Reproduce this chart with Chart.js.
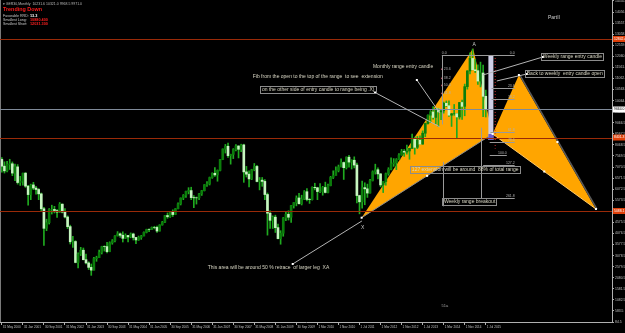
<!DOCTYPE html>
<html>
<head>
<meta charset="utf-8">
<script src="https://cdn.jsdelivr.net/npm/chart.js@4.4.0/dist/chart.umd.min.js"></script>
<style>
html, body { margin: 0; padding: 0; background: #000; overflow: hidden; }
</style>
</head>
<body>
<canvas id="daxChart" width="625" height="333"></canvas>
<script>
// GER30 monthly candles, May 2000 .. Sep 2015 (one entry per month)
const opens = [
    7414,7109,6898,7190,7216,6798,7077,6372,
    6433,6795,6208,5829,6264,6123,6058,5861,5188,4308,4560,5160,
    5160,5108,5039,5397,5041,4818,4383,3700,3712,2769,3153,3320,
    2893,2748,2547,2424,2942,2983,3221,3487,3484,3257,3655,3746,
    3965,4058,3995,3856,3985,3921,4052,3895,3785,3893,3960,4126,
    4256,4254,4350,4349,4185,4460,4586,4886,4829,5044,4929,5193,
    5408,5674,5796,5970,6009,5692,5683,5682,5859,6004,6268,6309,
    6597,6789,6716,6917,7409,7883,8007,7584,7638,7862,8019,7871,
    8067,6851,6748,6535,6949,7097,6418,6479,6422,5831,4988,4669,
    4810,4338,3843,4085,4770,4941,4809,5332,5465,5675,5414,5625,
    5957,5608,5598,6154,6136,5965,5966,6148,5925,6229,6601,6688,
    6914,7077,7273,7041,7514,7294,7376,7159,5785,5502,6141,6088,
    5898,6458,6856,6947,6761,6264,6416,6772,6971,7216,7260,7405,
    7612,7776,7741,7795,7914,8349,7959,8276,8103,8594,9033,9406,
    9552,9306,9692,9556,9603,9943,9833,9407,9470,9474,9327,9980,
    9806,10694,11402,11966,11454,11413,10945,11309,10259
];
const highs = [
    7500,7305,7330,7420,7300,7200,7180,6650,
    6800,6820,6250,6300,6380,6200,6100,5900,5250,4720,5200,5350,
    5300,5150,5470,5410,5200,4870,4450,3950,3750,3200,3450,3420,
    3150,2800,2700,3000,3050,3330,3500,3520,3680,3700,3800,3980,
    4160,4100,4150,4060,3990,4100,4090,3900,3960,3990,4150,4270,
    4290,4370,4400,4410,4470,4620,4890,5000,5060,5140,5200,5460,
    5680,5830,5990,6140,6160,5780,5720,5890,6020,6280,6410,6620,
    6810,7040,6940,7420,7890,8090,8150,7650,7900,8080,8030,8100,
    8100,7100,6900,6970,7230,7150,6600,6600,6500,5900,5100,4870,
    4900,4500,4200,4800,5060,5100,5340,5470,5770,5890,5800,6010,
    6100,5650,6180,6340,6160,6320,6200,6390,6300,6650,6900,7080,
    7160,7440,7300,7530,7600,7400,7530,7250,5800,6440,6360,6300,
    6520,6900,7200,7030,6780,6420,6800,7040,7480,7450,7450,7680,
    7870,7860,8060,7920,8560,8420,8450,8480,8700,9050,9420,9620,
    9800,9720,9720,9650,10000,10050,10050,9490,9890,9480,9980,10090,
    10810,11420,12220,12390,11920,11680,11800,11670,10540
];
const lows = [
    6834,6800,6850,6960,6680,6450,6300,6240,
    6250,6150,5350,5600,6050,5850,5600,5100,3540,4200,4500,4950,
    5000,4800,5020,5000,4780,4300,3600,3450,2750,2520,3080,2880,
    2700,2450,2188,2420,2820,2980,3150,3280,3200,3250,3590,3700,
    3960,3900,3690,3840,3690,3880,3780,3620,3760,3810,3960,4100,
    4160,4250,4280,4120,4180,4450,4560,4760,4800,4840,4920,5180,
    5360,5600,5700,5860,5600,5240,5400,5600,5790,5990,6200,6260,
    6560,6650,6430,6900,7400,7700,7500,7200,7450,7800,7480,7760,
    6380,6620,6170,6500,6900,6400,6040,6200,5600,4000,4300,4300,
    4120,3830,3590,3950,4650,4680,4570,5220,5320,5410,5360,5600,
    5540,5430,5580,6040,5600,5910,5800,5900,5900,6220,6550,6700,
    6850,7070,6510,6980,7060,6980,7030,5450,4960,5220,5370,5700,
    5890,6440,6750,6540,6180,5920,6250,6700,6940,7100,6950,7400,
    7600,7550,7650,7420,7900,7650,7900,8100,8100,8440,9000,9070,
    9230,9020,8900,9200,9500,9790,9350,8900,9400,8350,9230,9220,
    9380,10580,11270,11450,11330,10800,10680,9338,9325
];
const closes = [
    7109,6898,7190,7216,6798,7077,6372,6433,
    6795,6208,5829,6264,6123,6058,5861,5188,4308,4560,5160,5160,
    5108,5039,5397,5041,4818,4383,3700,3712,2769,3153,3320,2893,
    2748,2547,2424,2942,2983,3221,3487,3484,3257,3655,3746,3965,
    4058,3995,3856,3985,3921,4052,3895,3785,3893,3960,4126,4256,
    4254,4350,4349,4185,4460,4586,4886,4829,5044,4929,5193,5408,
    5674,5796,5970,6009,5692,5683,5682,5859,6004,6268,6309,6597,
    6789,6716,6917,7409,7883,8007,7584,7638,7862,8019,7871,8067,
    6851,6748,6535,6949,7097,6418,6479,6422,5831,4988,4669,4810,
    4338,3843,4085,4770,4941,4809,5332,5465,5675,5414,5625,5957,
    5608,5598,6154,6136,5965,5966,6148,5925,6229,6601,6688,6914,
    7077,7273,7041,7514,7294,7376,7159,5785,5502,6141,6088,5898,
    6458,6856,6947,6761,6264,6416,6772,6971,7216,7260,7405,7612,
    7776,7741,7795,7914,8349,7959,8276,8103,8594,9033,9406,9552,
    9306,9692,9556,9603,9943,9833,9407,9470,9474,9327,9980,9806,
    10694,11402,11966,11454,11413,10945,11309,10259,9660
];

// bottom date labels (bar index -> text)
const dateTickIdx = [0,8,16,24,32,40,48,56,64,72,80,88,96,104,112,120,128,136,144,152,160,168,176,184];
const dateTickLabels = [
    "31 May 2000","31 Jan 2001","30 Sep 2001","31 May 2002","31 Jan 2003","30 Sep 2003",
    "31 May 2004","31 Jan 2005","30 Sep 2005","31 May 2006","31 Jan 2007","30 Sep 2007",
    "31 May 2008","31 Jan 2009","30 Sep 2009","1 Mar 2010","1 Nov 2010","1 Jul 2011",
    "1 Mar 2012","1 Nov 2012","1 Jul 2013","1 Mar 2014","1 Nov 2014","1 Jul 2015"
];

// right side price labels
const priceTicks = [
    84.5,583.5,1082.5,1581.5,2080.5,2579.5,3078.5,3577.5,4076.5,4575.5,
    5074.5,5573.5,6072.5,6571.5,7070.5,7569.5,8068.5,8567.5,9066.5,9565.5,
    10064.5,10563.5,11062.5,11561.5,12060.5,12559.5,13058.5,13557.5,14056.5,14555.5
];

// horizontal levels
const levelPrices = [12842.4, 9664.0, 8401.3, 5088.1];
const levelIsWhite = [false, true, false, false];

// harmonic pattern X A B C D
const patternNames = ["X", "A", "B", "C", "D"];
const patternIdx = [136.8, 179.2, 186.6, 196.6, 225.9];
const patternPrice = [4786, 12420, 8560, 11219, 5178];

// text notes
const noteTexts = [
    "Monthly range entry candle",
    "Fib from the open to the top of the range  to see  extension",
    "on the other side of entry candle to range being .X)",
    "Weekly range entry candle",
    "Back to weekly  entry candle open",
    "127 extension will be around  88% of total range",
    "Weekly range breakout",
    "This area will be around 50 % retrace  of larger leg  XA"
];
const noteIdx = [141.1, 95.4, 98.9, 205.7, 199.6, 155.9, 168.1, 78.3];
const notePrice = [11580, 11129, 10543, 12031, 11264, 6937, 5494, 2519];
const noteBoxed = [false, false, true, true, true, true, true, false];

// pointer lines [idx, price] -> [idx, price]
const pointerFrom = [[110.6, 2699], [157.8, 10994], [141.9, 10430], [205.7, 12031], [199.6, 11264]];
const pointerTo = [[136.9, 4638], [166.5, 9506], [166.5, 8880], [182.9, 11219], [188.2, 10950]];

// fib level marks
const fibIdxFrom = [167.3, 186.2, 186.2, 185.8, 185.5, 185.5, 183.0, 182.3];
const fibIdxTo = [195.0, 195.0, 195.0, 195.0, 195.0, 192.0, 195.0, 195.0];
const fibPrice = [12121, 10633, 10137, 8650, 8199, 7612, 7162, 5674];
const fibText = ["0.0", "23.6", "38.2", "61.8", "78.6", "100.0", "127.2", "261.8"];

// labels along the monthly fib vertical
const monthlyFibPrice = [11490, 11080, 10760, 10400];
const monthlyFibText = ["23.6", "38.2", "50.0", "61.8"];

const ctxChart = document.getElementById("daxChart").getContext("2d");

const FONT = '"Liberation Sans", "DejaVu Sans", sans-serif';

const bullBody = "#0b7d0b";
const bearBody = "#c6f5c0";
const wickColor = "#1faa1f";
const orange = "#ffa500";

const bodyColors = closes.map((c, i) => c >= opens[i] ? bullBody : bearBody);

const px = (chart, v) => chart.scales.x.getPixelForValue(v);
const py = (chart, v) => chart.scales.y.getPixelForValue(v);

const backgroundPlugin = {
    id: "blackBackground",
    beforeDraw(chart) {
        const c = chart.ctx;
        c.save();
        c.fillStyle = "#000";
        c.fillRect(0, 0, chart.width, chart.height);
        c.restore();
    }
};

// orange pattern triangles go under the candles
const patternPlugin = {
    id: "harmonicPattern",
    beforeDatasetsDraw(chart) {
        const c = chart.ctx;
        const pts = patternIdx.map((i, k) => [px(chart, i), py(chart, patternPrice[k])]);
        c.save();
        c.fillStyle = orange;
        [[0, 1, 2], [2, 3, 4]].forEach(tri => {
            c.beginPath();
            c.moveTo(pts[tri[0]][0], pts[tri[0]][1]);
            c.lineTo(pts[tri[1]][0], pts[tri[1]][1]);
            c.lineTo(pts[tri[2]][0], pts[tri[2]][1]);
            c.closePath();
            c.fill();
        });
        // edges
        c.lineWidth = 1;
        c.strokeStyle = "#ffc966";
        c.beginPath();
        c.moveTo(pts[2][0], pts[2][1]);
        c.lineTo(pts[4][0], pts[4][1]);
        c.stroke();
        c.strokeStyle = "#8c8c8c";
        c.beginPath();
        c.moveTo(pts[0][0], pts[0][1]);
        c.lineTo(pts[2][0], pts[2][1]);
        c.stroke();
        c.strokeStyle = "#5a5a5a";
        c.lineWidth = 1.5;
        c.beginPath();
        c.moveTo(pts[3][0] + 1, pts[3][1]);
        c.lineTo(pts[4][0] + 1, pts[4][1]);
        c.stroke();
        c.restore();
    }
};

const overlayPlugin = {
    id: "overlay",
    afterDatasetsDraw(chart) {
        const c = chart.ctx;
        const area = chart.chartArea;
        c.save();

        // window border on the left
        c.strokeStyle = "#7a7a7a";
        c.beginPath();
        c.moveTo(0.5, area.top);
        c.lineTo(0.5, area.bottom);
        c.stroke();

        // weekly range candle (tall rectangle) and dotted marker
        const rx0 = px(chart, 185.0), rx1 = px(chart, 186.9);
        const ry0 = py(chart, 12121), ry1 = py(chart, 8289);
        c.fillStyle = "#cfcfe6";
        c.fillRect(rx0, ry0, rx1 - rx0, ry1 - ry0);
        c.fillStyle = "#6a5acd";
        c.fillRect(rx0, ry1 - 6, rx1 - rx0, 6);
        c.strokeStyle = "#d03030";
        c.setLineDash([1, 2]);
        c.beginPath();
        c.moveTo(px(chart, 187.4) + 0.5, ry0);
        c.lineTo(px(chart, 187.4) + 0.5, py(chart, 7900));
        c.stroke();
        c.setLineDash([]);

        // horizontal price levels
        levelPrices.forEach((p, k) => {
            const y = Math.round(py(chart, p)) + 0.5;
            c.strokeStyle = levelIsWhite[k] ? "#7f8a99" : "#9a2a08";
            c.lineWidth = 1;
            c.beginPath();
            c.moveTo(area.left, y);
            c.lineTo(area.right, y);
            c.stroke();
        });

        // fib marks
        c.strokeStyle = "#9a9a9a";
        c.fillStyle = "#b0b0b0";
        c.font = "3.5px " + FONT;
        c.textBaseline = "bottom";
        fibPrice.forEach((p, k) => {
            const y = Math.round(py(chart, p)) + 0.5;
            const x0 = px(chart, fibIdxFrom[k]), x1 = px(chart, fibIdxTo[k]);
            c.beginPath();
            c.moveTo(x0, y);
            c.lineTo(x1, y);
            c.stroke();
            c.textAlign = "right";
            c.fillText(fibText[k], x1, y - 0.5);
        });
        c.textAlign = "left";
        c.fillText("0.0", px(chart, 167.3), py(chart, 12121) - 0.5);
        monthlyFibPrice.forEach((p, k) => {
            const y = py(chart, p);
            c.fillStyle = "#ff6a8a";
            c.fillRect(px(chart, 167.3) - 0.5, y - 0.5, 1.5, 1.5);
            c.fillStyle = "#b0b0b0";
            c.fillText(monthlyFibText[k], px(chart, 167.3) + 2, y + 1.5);
        });
        // fib vertical guides
        [[167.3, 12121, 8990], [182.3, 8840, 5674], [167.9, 7300, 5300]].forEach(v => {
            const x = Math.round(px(chart, v[0])) + 0.5;
            c.beginPath();
            c.moveTo(x, py(chart, v[1]));
            c.lineTo(x, py(chart, v[2]));
            c.stroke();
        });

        // pointer lines
        c.strokeStyle = "#b4b4b4";
        c.lineWidth = 1;
        pointerFrom.forEach((f, k) => {
            const t = pointerTo[k];
            c.beginPath();
            c.moveTo(px(chart, f[0]), py(chart, f[1]));
            c.lineTo(px(chart, t[0]), py(chart, t[1]));
            c.stroke();
            c.fillStyle = "#ffffff";
            c.fillRect(px(chart, f[0]) - 1, py(chart, f[1]) - 1, 2, 2);
        });

        // pattern point markers
        c.fillStyle = "#ffffff";
        patternIdx.forEach((i, k) => {
            if (k === 1) return;
            c.fillRect(px(chart, i) - 1, py(chart, patternPrice[k]) - 1, 2, 2);
        });
        // mid-edge markers
        [[0, 2], [3, 4], [2, 4]].forEach(e => {
            const mi = (patternIdx[e[0]] + patternIdx[e[1]]) / 2;
            const mp = (patternPrice[e[0]] + patternPrice[e[1]]) / 2;
            c.fillRect(px(chart, mi) - 1, py(chart, mp) - 1, 2, 2);
        });

        // pattern names
        c.fillStyle = "#c8c8c8";
        c.font = "5px " + FONT;
        c.textAlign = "center";
        c.textBaseline = "middle";
        c.fillText("X", px(chart, patternIdx[0]) + 1, py(chart, patternPrice[0]) + 10);
        c.fillText("A", px(chart, patternIdx[1]) + 1, py(chart, patternPrice[1]) - 4);

        // notes
        c.textAlign = "left";
        noteTexts.forEach((t, k) => {
            const x = px(chart, noteIdx[k]);
            const y = py(chart, notePrice[k]);
            c.font = "5px " + FONT;
            const w = c.measureText(t).width;
            if (noteBoxed[k]) {
                c.strokeStyle = "#8c8c8c";
                c.strokeRect(Math.round(x - 2) + 0.5, Math.round(y - 4) + 0.5, Math.round(w + 3), 7);
            }
            c.fillStyle = "#d8d6c4";
            c.fillText(t, x, y);
        });

        // small label near the bottom
        c.fillStyle = "#a0a0a0";
        c.font = "4px " + FONT;
        c.fillText("51a", px(chart, 167.2), py(chart, 800));

        // header block
        c.textBaseline = "middle";
        c.fillStyle = "#b8b8b8";
        c.font = "3.5px " + FONT;
        c.fillText("\u25BE GER30,Monthly  10231.6 10321.0 9968.5 9971.0", 3, 4);
        c.fillStyle = "#ff1a1a";
        c.font = "bold 5.4px " + FONT;
        c.fillText("Trending Down", 3, 10);
        c.font = "3.6px " + FONT;
        c.fillStyle = "#c8c8c8";
        c.fillText("Favorable RRD:", 3, 15.5);
        c.fillText("Smallest Long:", 3, 19.5);
        c.fillText("Smallest Short:", 3, 23.5);
        c.fillStyle = "#ffffff";
        c.font = "bold 3.8px " + FONT;
        c.fillText("13.3", 30, 15.5);
        c.fillStyle = "#ff2020";
        c.fillText("10880.400", 30, 19.5);
        c.fillText("12031.300", 30, 23.5);

        c.fillStyle = "#d0d0d0";
        c.font = "5px " + FONT;
        c.fillText("PartII", 548, 18);

        // price axis labels
        c.fillStyle = "#c0c0c0";
        c.font = "3.4px " + FONT;
        c.textAlign = "left";
        priceTicks.forEach(v => {
            c.fillText(v.toFixed(1), area.right + 3, py(chart, v));
        });

        // date labels
        c.font = "3.1px " + FONT;
        c.textBaseline = "top";
        dateTickIdx.forEach((i, k) => {
            c.fillText(dateTickLabels[k], px(chart, i) + 1, area.bottom + 4);
        });
        c.textBaseline = "middle";

        // level tags on the price axis
        levelPrices.forEach((p, k) => {
            const y = py(chart, p);
            c.fillStyle = levelIsWhite[k] ? "#ffffff" : "#e0400a";
            c.fillRect(area.right + 1, y - 3, 12, 6);
            c.fillStyle = levelIsWhite[k] ? "#000" : "#fff";
            c.font = "3.4px " + FONT;
            c.fillText(p.toFixed(1), area.right + 2, y);
        });

        c.restore();
    }
};

const candleChart = new Chart(ctxChart, {
    type: "bar",
    data: {
        datasets: [
            {
                label: "Body",
                data: opens.map((o, i) => ({ x: i, y: [o, closes[i]] })),
                backgroundColor: bodyColors,
                barThickness: 2,
                grouped: false,
                order: 0
            },
            {
                label: "Wick",
                data: highs.map((h, i) => ({ x: i, y: [lows[i], h] })),
                backgroundColor: wickColor,
                barThickness: 1,
                grouped: false,
                order: 1
            }
        ]
    },
    options: {
        responsive: false,
        animation: false,
        devicePixelRatio: 1,
        layout: { padding: 0 },
        plugins: {
            legend: { display: false },
            tooltip: { enabled: false }
        },
        scales: {
            x: {
                type: "linear",
                offset: false,
                min: -0.7,
                max: 232,
                afterFit: (axis) => { axis.height = 11; },
                afterBuildTicks: (axis) => {
                    axis.ticks = dateTickIdx.map(v => ({ value: v }));
                },
                ticks: { display: false },
                grid: { offset: false, drawOnChartArea: false, drawTicks: true, tickLength: 3, color: "#b0b0b0" },
                border: { display: true, color: "#b0b0b0" }
            },
            y: {
                type: "linear",
                position: "right",
                min: 84.5,
                max: 14600,
                afterFit: (axis) => { axis.width = 13; },
                afterBuildTicks: (axis) => {
                    axis.ticks = priceTicks.map(v => ({ value: v }));
                },
                ticks: { display: false },
                grid: { drawOnChartArea: false, drawTicks: true, tickLength: 2, color: "#b0b0b0" },
                border: { display: true, color: "#b0b0b0" }
            }
        }
    },
    plugins: [backgroundPlugin, patternPlugin, overlayPlugin]
});
</script>
</body>
</html>
